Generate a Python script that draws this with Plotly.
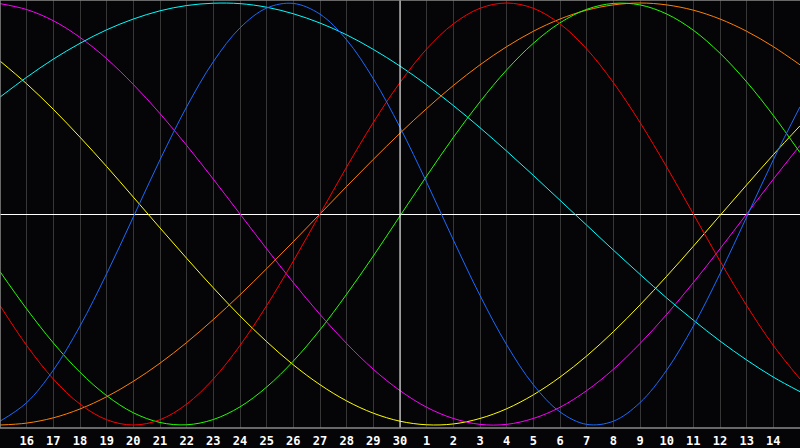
import plotly.graph_objects as go

# Day labels along the bottom (positions 0..28)
day_labels = ["16", "17", "18", "19", "20", "21", "22", "23", "24", "25", "26", "27", "28", "29", "30",
              "1", "2", "3", "4", "5", "6", "7", "8", "9", "10", "11", "12", "13", "14"]

# Sample positions (one per day, from the day before "16" to the day after "14")
sample_pos = list(range(-1, 30))

# Series values (range -1 .. 1)
blue = [-0.982, -0.894, -0.740, -0.531, -0.283, -0.014, 0.257, 0.508, 0.722, 0.882, 0.976, 0.998,
        0.947, 0.825, 0.641, 0.411, 0.150, -0.123, -0.386, -0.620, -0.809, -0.938, -0.997, -0.982,
        -0.894, -0.740, -0.531, -0.283, -0.014, 0.257, 0.508]
red = [-0.434, -0.623, -0.782, -0.901, -0.975, -1.000, -0.975, -0.901, -0.782, -0.623, -0.434, -0.223,
       0.000, 0.223, 0.434, 0.623, 0.782, 0.901, 0.975, 1.000, 0.975, 0.901, 0.782, 0.623,
       0.434, 0.223, 0.000, -0.223, -0.434, -0.623, -0.782]
green = [-0.273, -0.450, -0.611, -0.750, -0.861, -0.942, -0.988, -0.999, -0.974, -0.914, -0.820, -0.697,
         -0.549, -0.380, -0.199, -0.009, 0.180, 0.363, 0.532, 0.683, 0.809, 0.906, 0.970, 0.998,
         0.991, 0.948, 0.871, 0.762, 0.626, 0.467, 0.291]
cyan = [0.554, 0.648, 0.734, 0.809, 0.873, 0.924, 0.963, 0.988, 0.999, 0.997, 0.980, 0.949,
        0.905, 0.849, 0.780, 0.701, 0.612, 0.514, 0.409, 0.298, 0.183, 0.065, -0.053, -0.171,
        -0.286, -0.398, -0.503, -0.602, -0.692, -0.773, -0.842]
magenta = [0.997, 0.969, 0.916, 0.837, 0.736, 0.614, 0.476, 0.325, 0.165, 0.000, -0.165, -0.325,
           -0.476, -0.614, -0.736, -0.837, -0.916, -0.969, -0.997, -0.997, -0.969, -0.916, -0.837, -0.736,
           -0.614, -0.476, -0.325, -0.165, 0.000, 0.165, 0.325]
yellow = [0.725, 0.617, 0.496, 0.364, 0.225, 0.080, -0.066, -0.210, -0.350, -0.483, -0.605, -0.715,
          -0.809, -0.886, -0.944, -0.982, -0.999, -0.995, -0.969, -0.923, -0.857, -0.773, -0.673, -0.558,
          -0.431, -0.295, -0.153, -0.007, 0.138, 0.281, 0.418]
orange = [-1.000, -0.991, -0.966, -0.924, -0.866, -0.793, -0.707, -0.609, -0.500, -0.383, -0.259, -0.131,
          0.000, 0.131, 0.259, 0.383, 0.500, 0.609, 0.707, 0.793, 0.866, 0.924, 0.966, 0.991,
          1.000, 0.991, 0.966, 0.924, 0.866, 0.793, 0.707]

series = [
    ("yellow", yellow, "#ffff00"),
    ("magenta", magenta, "#ff00ff"),
    ("cyan", cyan, "#00ffff"),
    ("orange", orange, "#ff8000"),
    ("green", green, "#22ff00"),
    ("red", red, "#ff0000"),
    ("blue", blue, "#1a6aff"),
]

today_index = 14  # day "30"

fig = go.Figure()
for name, vals, color in series:
    fig.add_trace(go.Scatter(x=sample_pos, y=vals, mode="lines", name=name,
                             line=dict(color=color, width=1, shape="spline", smoothing=1.0),
                             hoverinfo="skip"))

bg = "#050508"
fig.update_layout(
    width=800, height=448,
    margin=dict(l=0, r=0, t=0, b=20, pad=0),
    paper_bgcolor=bg, plot_bgcolor=bg,
    showlegend=False,
    xaxis=dict(range=[-1, 29], tickmode="array", tickvals=list(range(len(day_labels))),
               ticktext=["<b>%s</b>" % d for d in day_labels],
               showgrid=True, gridcolor="#363636", gridwidth=1, zeroline=False,
               showline=False, ticks="", ticklabelstandoff=4,
               tickfont=dict(family="DejaVu Sans Mono", size=12, color="#ffffff")),
    yaxis=dict(range=[-1.0142, 1.0142], showgrid=False, showticklabels=False,
               zeroline=True, zerolinecolor="#ffffff", zerolinewidth=1, showline=False),
    shapes=[
        dict(type="line", xref="x", yref="paper", x0=today_index, x1=today_index, y0=0, y1=1,
             line=dict(color="#ffffff", width=1), layer="above"),
        dict(type="line", xref="paper", yref="paper", x0=0, x1=1, y0=0, y1=0,
             line=dict(color="#8a8a8a", width=1.5)),
        dict(type="line", xref="paper", yref="paper", x0=0, x1=1, y0=1, y1=1,
             line=dict(color="#8a8a8a", width=1.5)),
        dict(type="line", xref="paper", yref="paper", x0=0, x1=0, y0=0, y1=1,
             line=dict(color="#8a8a8a", width=1.5)),
    ],
)

fig.write_html("out.html", config={"displayModeBar": False},
               post_script="document.body.style.margin='0';document.body.style.overflow='hidden';"
                           "document.body.style.background='#050508';")
